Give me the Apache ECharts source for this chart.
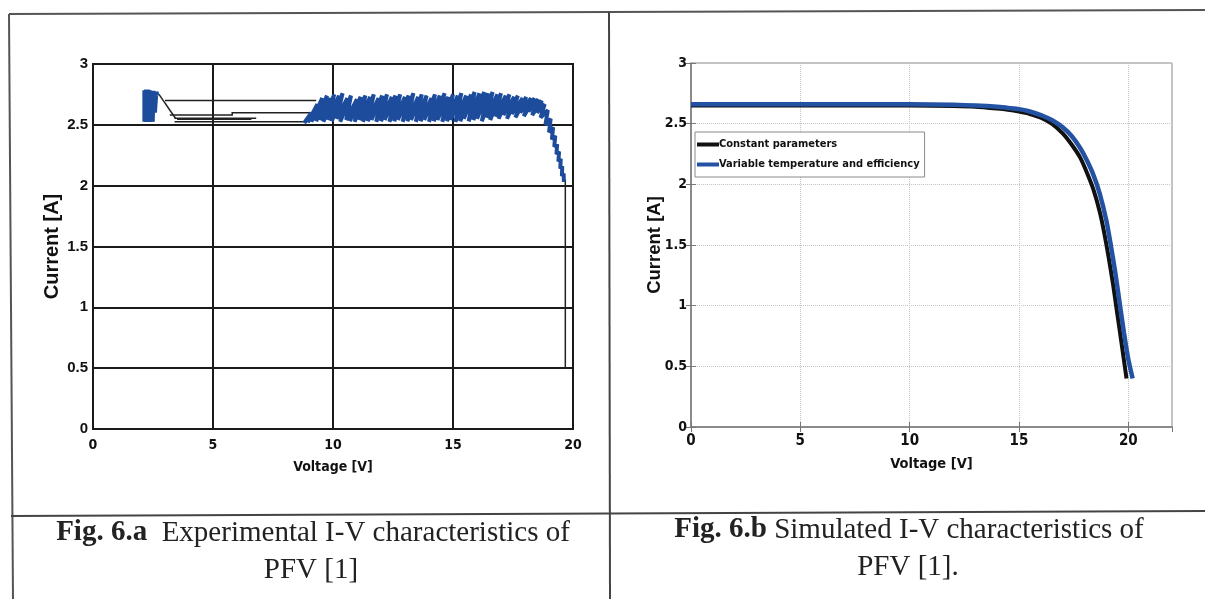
<!DOCTYPE html>
<html>
<head>
<meta charset="utf-8">
<script src="https://cdn.jsdelivr.net/npm/echarts@6/dist/echarts.min.js"></script>
<style>
html,body{margin:0;padding:0;background:#fff;}
#c{width:1205px;height:599px;}
</style>
</head>
<body>
<div id="c"></div>
<script>
// ---------- Data: Fig 6.a (experimental) ----------
var expXTicks = [0, 5, 10, 15, 20];
var expYTicks = [0, 0.5, 1, 1.5, 2, 2.5, 3];
// start-up block of measured points (V, I)
var expBlueStart = [
  [2.14,2.525],[2.14,2.785],[2.21,2.525],[2.21,2.79],[2.28,2.525],[2.28,2.79],
  [2.35,2.525],[2.35,2.785],[2.42,2.525],[2.42,2.78],[2.49,2.525],[2.52,2.78],
  [2.58,2.60],[2.64,2.77],[2.70,2.74]
];
// main measured sweep (V, I)
var expBlue = [
  [8.80,2.515],[9.10,2.60],[8.95,2.52],[9.35,2.67],[9.10,2.525],[9.55,2.72],
  [9.30,2.53],[9.75,2.74],[9.45,2.54],[9.90,2.72],[9.60,2.525],[10.05,2.75],
  [9.80,2.54],[10.25,2.74],[9.95,2.53],[10.40,2.76],[10.15,2.55],[10.60,2.72],
  [10.30,2.525],[10.75,2.74],[10.55,2.54],[11.00,2.71],[10.70,2.53],[11.15,2.73],
  [10.90,2.525],[11.35,2.74],[11.10,2.54],[11.55,2.73],[11.25,2.525],[11.70,2.75],
  [11.45,2.53],[11.90,2.72],[11.60,2.54],[12.05,2.74],[11.80,2.525],[12.25,2.75],
  [12.00,2.53],[12.45,2.73],[12.15,2.54],[12.60,2.74],[12.35,2.525],[12.80,2.75],
  [12.55,2.53],[13.00,2.73],[12.70,2.54],[13.15,2.74],[12.90,2.525],[13.35,2.76],
  [13.10,2.53],[13.55,2.73],[13.25,2.54],[13.70,2.75],[13.45,2.525],[13.90,2.74],
  [13.65,2.53],[14.10,2.72],[13.80,2.54],[14.25,2.75],[14.00,2.525],[14.45,2.74],
  [14.20,2.53],[14.65,2.76],[14.35,2.54],[14.80,2.73],[14.55,2.525],[15.00,2.75],
  [14.75,2.53],[15.20,2.74],[14.90,2.54],[15.35,2.76],[15.10,2.525],[15.55,2.74],
  [15.30,2.53],[15.75,2.75],[15.45,2.55],[15.90,2.77],[15.65,2.53],[16.10,2.76],
  [15.85,2.54],[16.30,2.77],[16.00,2.55],[16.45,2.76],[16.20,2.53],[16.65,2.77],
  [16.40,2.56],[16.85,2.75],[16.55,2.54],[17.00,2.76],[16.75,2.57],[17.20,2.74],
  [16.90,2.55],[17.35,2.75],[17.10,2.58],[17.55,2.73],[17.25,2.55],[17.70,2.74],
  [17.45,2.59],[17.90,2.72],[17.60,2.56],[18.05,2.73],[17.80,2.60],[18.25,2.72],
  [17.95,2.57],[18.40,2.72],[18.15,2.61],[18.55,2.71],[18.30,2.58],[18.70,2.70],
  [18.50,2.60],[18.82,2.67],[18.65,2.56],[18.95,2.62],[18.85,2.50],[19.07,2.55],
  [19.00,2.44],[19.17,2.48],[19.12,2.38],[19.26,2.41],[19.22,2.32],[19.34,2.34],
  [19.31,2.26],[19.42,2.28],[19.39,2.20],[19.49,2.22],[19.47,2.14],[19.55,2.16],
  [19.54,2.08],[19.61,2.10],[19.62,2.03]
];
// thin black connecting traces (polylines of V, I)
var expLinks = [
  [[2.75,2.75],[3.45,2.55]],
  [[3.00,2.70],[9.30,2.70]],
  [[3.20,2.58],[5.80,2.58],[5.80,2.60],[9.40,2.60]],
  [[3.40,2.555],[6.80,2.555]],
  [[3.50,2.545],[6.60,2.545]],
  [[3.40,2.525],[8.90,2.525]],
  [[19.68,2.05],[19.68,0.50]]
];

// ---------- Data: Fig 6.b (simulated) ----------
var simXTicks = [0, 5, 10, 15, 20];
var simYTicks = [0, 0.5, 1, 1.5, 2, 2.5, 3];
var simConst = [
  [0,2.65],[5,2.65],[10,2.65],[12,2.645],[13,2.64],[14,2.625],[14.5,2.615],
  [15,2.60],[15.5,2.58],[16,2.55],[16.5,2.50],[17,2.42],[17.4,2.33],
  [17.8,2.22],[18.1,2.10],[18.4,1.96],[18.7,1.77],[18.9,1.60],[19.1,1.40],
  [19.3,1.18],[19.5,0.93],[19.7,0.68],[19.92,0.40]
];
var simVar = [
  [0,2.66],[5,2.66],[10,2.66],[12,2.655],[13,2.65],[14,2.64],[14.5,2.63],
  [15,2.62],[15.5,2.60],[16,2.57],[16.5,2.53],[17,2.47],[17.4,2.40],
  [17.8,2.30],[18.1,2.20],[18.4,2.08],[18.7,1.92],[19.0,1.70],[19.2,1.50],
  [19.4,1.28],[19.6,1.03],[19.8,0.78],[20.0,0.56],[20.2,0.40]
];

var NARROW = "'Liberation Sans Narrow','Arial Narrow','DejaVu Sans Condensed',sans-serif";
var WIDE = "'Liberation Sans',Arial,sans-serif";
var SERIF = "'Liberation Serif','Times New Roman',serif";
var BLUE = '#1d4c9d';

var chart = echarts.init(document.getElementById('c'));

function tickFmt(ticks){ return function(v){ return ticks.indexOf(v) >= 0 ? String(v) : ''; }; }

var option = {
  animation: false,
  backgroundColor: '#fff',
  grid: [
    {left: 93, top: 64, width: 480, height: 365, show: true, borderColor: '#1a1a1a', borderWidth: 2, backgroundColor: 'transparent'},
    {left: 691, top: 63, width: 481, height: 364, show: true, borderColor: '#8a8a8a', borderWidth: 1, backgroundColor: 'transparent'}
  ],
  xAxis: [
    {gridIndex: 0, type: 'value', min: 0, max: 20, interval: 5,
     name: 'Voltage [V]', nameLocation: 'middle', nameGap: 31, nameMoveOverlap: false,
     nameTextStyle: {fontFamily: NARROW, fontWeight: 'bold', fontSize: 14, color: '#111'},
     axisLine: {lineStyle: {color: '#1a1a1a', width: 2}}, axisTick: {show: false},
     axisLabel: {fontFamily: NARROW, fontWeight: 'bold', fontSize: 14, color: '#111', margin: 9, formatter: tickFmt(expXTicks)},
     splitLine: {show: true, lineStyle: {color: '#1a1a1a', width: 2}}},
    {gridIndex: 1, type: 'value', min: 0, max: 22, interval: 5,
     name: 'Voltage [V]', nameLocation: 'middle', nameGap: 30, nameMoveOverlap: false,
     nameTextStyle: {fontFamily: NARROW, fontWeight: 'bold', fontSize: 14.5, color: '#111'},
     axisLine: {lineStyle: {color: '#777', width: 1.5}},
     axisTick: {show: true, inside: true, length: 5, lineStyle: {color: '#777'}},
     axisLabel: {fontFamily: NARROW, fontWeight: 'bold', fontSize: 15, color: '#111', margin: 7, showMaxLabel: false, formatter: tickFmt(simXTicks)},
     splitLine: {show: true, lineStyle: {color: '#c4c4c4', type: 'dotted', width: 1}}},
    {gridIndex: 1, type: 'value', min: 0, max: 22, interval: 5, position: 'top',
     axisLine: {show: false}, axisLabel: {show: false}, splitLine: {show: false},
     axisTick: {show: true, inside: true, length: 5, lineStyle: {color: '#777'}}}
  ],
  yAxis: [
    {gridIndex: 0, type: 'value', min: 0, max: 3, interval: 0.5,
     name: 'Current [A]', nameLocation: 'middle', nameGap: 31, nameMoveOverlap: false,
     nameTextStyle: {fontFamily: WIDE, fontWeight: 'bold', fontSize: 20, color: '#111'},
     axisLine: {lineStyle: {color: '#1a1a1a', width: 2}}, axisTick: {show: false},
     axisLabel: {fontFamily: WIDE, fontWeight: 'bold', fontSize: 15, color: '#111', margin: 5, formatter: tickFmt(expYTicks)},
     splitLine: {show: true, lineStyle: {color: '#1a1a1a', width: 2}}},
    {gridIndex: 1, type: 'value', min: 0, max: 3, interval: 0.5,
     name: 'Current [A]', nameLocation: 'middle', nameGap: 27, nameMoveOverlap: false,
     nameTextStyle: {fontFamily: WIDE, fontWeight: 'bold', fontSize: 18.5, color: '#111'},
     axisLine: {lineStyle: {color: '#777', width: 1.5}},
     axisTick: {show: true, inside: true, length: 5, lineStyle: {color: '#777'}},
     axisLabel: {fontFamily: NARROW, fontWeight: 'bold', fontSize: 14, color: '#111', margin: 4, formatter: tickFmt(simYTicks)},
     splitLine: {show: true, lineStyle: {color: '#c4c4c4', type: 'dotted', width: 1}}},
    {gridIndex: 1, type: 'value', min: 0, max: 3, interval: 0.5, position: 'right',
     axisLine: {show: false}, axisLabel: {show: false}, splitLine: {show: false},
     axisTick: {show: true, inside: true, length: 5, lineStyle: {color: '#777'}}}
  ],
  legend: {
    data: ['Constant parameters', 'Variable temperature and efficiency'],
    orient: 'vertical', left: 695, top: 132,
    backgroundColor: '#fff', borderColor: '#8a8a8a', borderWidth: 1,
    padding: [7, 5, 7, 2], itemGap: 9, itemWidth: 22, itemHeight: 4, icon: 'rect',
    textStyle: {fontFamily: NARROW, fontWeight: 'bold', fontSize: 11, color: '#111', padding: [0, 0, 0, -5]}
  },
  series: [
    {type: 'lines', coordinateSystem: 'cartesian2d', xAxisIndex: 0, yAxisIndex: 0, polyline: true,
     lineStyle: {color: '#222', width: 1.5, opacity: 1}, z: 3,
     data: expLinks.map(function(c){ return {coords: c}; })},
    {type: 'line', xAxisIndex: 0, yAxisIndex: 0, data: expBlueStart, showSymbol: false,
     lineStyle: {color: BLUE, width: 4}, z: 4},
    {type: 'line', xAxisIndex: 0, yAxisIndex: 0, data: expBlue, showSymbol: false,
     lineStyle: {color: BLUE, width: 4}, z: 4},
    {name: 'Constant parameters', type: 'line', xAxisIndex: 1, yAxisIndex: 1, data: simConst,
     showSymbol: false, smooth: 0.2, color: '#111', lineStyle: {color: '#111', width: 4}, z: 3},
    {name: 'Variable temperature and efficiency', type: 'line', xAxisIndex: 1, yAxisIndex: 1, data: simVar,
     showSymbol: false, smooth: 0.2, color: '#2352a3', lineStyle: {color: '#2352a3', width: 4.5}, z: 4}
  ],
  graphic: [
    {type: 'line', shape: {x1: 9, y1: 14, x2: 1205, y2: 10}, style: {stroke: '#555', lineWidth: 2}},
    {type: 'line', shape: {x1: 9, y1: 14, x2: 13, y2: 599}, style: {stroke: '#555', lineWidth: 2}},
    {type: 'line', shape: {x1: 609, y1: 12, x2: 610, y2: 599}, style: {stroke: '#444', lineWidth: 2}},
    {type: 'line', shape: {x1: 11, y1: 516, x2: 1205, y2: 511}, style: {stroke: '#444', lineWidth: 2}},
    {type: 'text', x: 313, y: 533, style: {
      text: '{b|Fig. 6.a}  Experimental I-V characteristics of',
      fontFamily: SERIF, fontSize: 29, fill: '#222', align: 'center', verticalAlign: 'middle',
      rich: {b: {fontFamily: SERIF, fontSize: 29, fontWeight: 'bold', fill: '#222'}}}},
    {type: 'text', x: 311, y: 570, style: {
      text: 'PFV [1]', fontFamily: SERIF, fontSize: 29, fill: '#222', align: 'center', verticalAlign: 'middle'}},
    {type: 'text', x: 909, y: 530, style: {
      text: '{b|Fig. 6.b} Simulated I-V characteristics of',
      fontFamily: SERIF, fontSize: 29, fill: '#222', align: 'center', verticalAlign: 'middle',
      rich: {b: {fontFamily: SERIF, fontSize: 29, fontWeight: 'bold', fill: '#222'}}}},
    {type: 'text', x: 908, y: 567, style: {
      text: 'PFV [1].', fontFamily: SERIF, fontSize: 29, fill: '#222', align: 'center', verticalAlign: 'middle'}}
  ]
};
chart.setOption(option);
</script>
</body>
</html>
